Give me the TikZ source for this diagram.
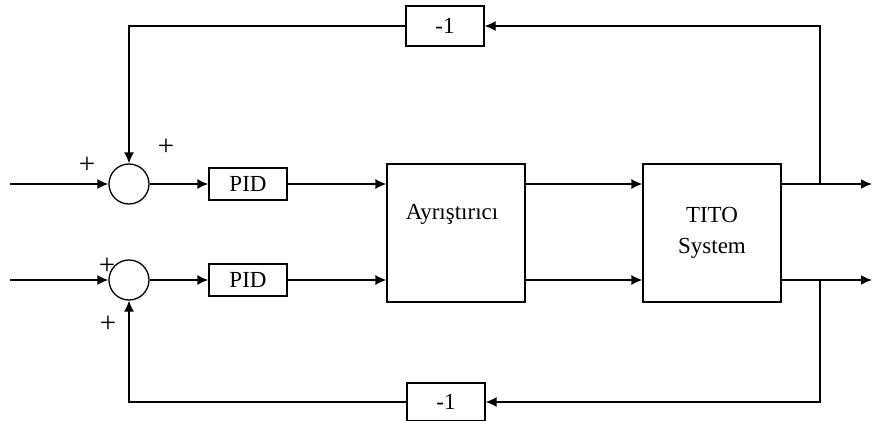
\documentclass[tikz,border=0pt]{standalone}
\usepackage{fontspec}
\setmainfont{Liberation Serif}
\usetikzlibrary{arrows.meta, positioning}

\begin{document}
\begin{tikzpicture}[x=1pt, y=-1pt, line width=1.3pt, font=\fontsize{23}{31}\selectfont,
    >={Latex[length=11pt, width=10pt]},
    sum/.style={circle, draw, minimum size=40pt, inner sep=0pt},
    box/.style={draw, minimum width=78pt, minimum height=32pt, inner sep=0pt},
    bigbox/.style={draw, minimum width=138pt, minimum height=138pt, align=center},
    sign/.style={font=\fontsize{29}{29}\selectfont, inner sep=0pt}]
          \useasboundingbox (0,0) rectangle (872,420);

          \node[sum] (S1) at (129,184) {};
          \node[sum] (S2) at (129,280) {};
          \node[box] (P1) at (248,184) {PID};
          \node[box] (P2) at (248,280) {PID};
          \node[bigbox] (D) at (456,233) {};
          \node (Dtext) at (452,214) {Ayrıştırıcı};
          \node[bigbox] (T) at (712,233) {TITO\\System};
          \node[box, minimum height=40pt] (G1) at (445,26) {-1};
          \node[box, minimum height=38pt] (G2) at (446,402) {-1};

          \coordinate (in1) at (10,184);
          \coordinate (in2) at (10,280);
          \coordinate (out1) at (872,184);
          \coordinate (out2) at (872,280);
          \coordinate (b1) at (820,184);
          \coordinate (b2) at (820,280);

          \node[sign] (pA) at (87,165) {+};
          \node[sign] (pB) at (166,147) {+};
          \node[sign] (pC) at (107,266) {+};
          \node[sign] (pD) at (108,324) {+};

          \draw[->] (in1) -- (S1);
          \draw[->] (in2) -- (S2);
          \draw[->] (S1) -- (P1);
          \draw[->] (S2) -- (P2);
          \draw[->] (P1) -- (P1 -| D.west);
          \draw[->] (P2) -- (P2 -| D.west);
          \draw[->] (D.east |- P1) -- (T.west |- P1);
          \draw[->] (D.east |- P2) -- (T.west |- P2);
          \draw[->] (T.east |- P1) -- (out1);
          \draw[->] (T.east |- P2) -- (out2);

          \draw[->] (b1) |- (G1);
          \draw[->] (G1) -| (S1);
          \draw[->] (b2) |- (G2);
          \draw[->] (G2) -| (S2);
        \end{tikzpicture}
\end{document}
